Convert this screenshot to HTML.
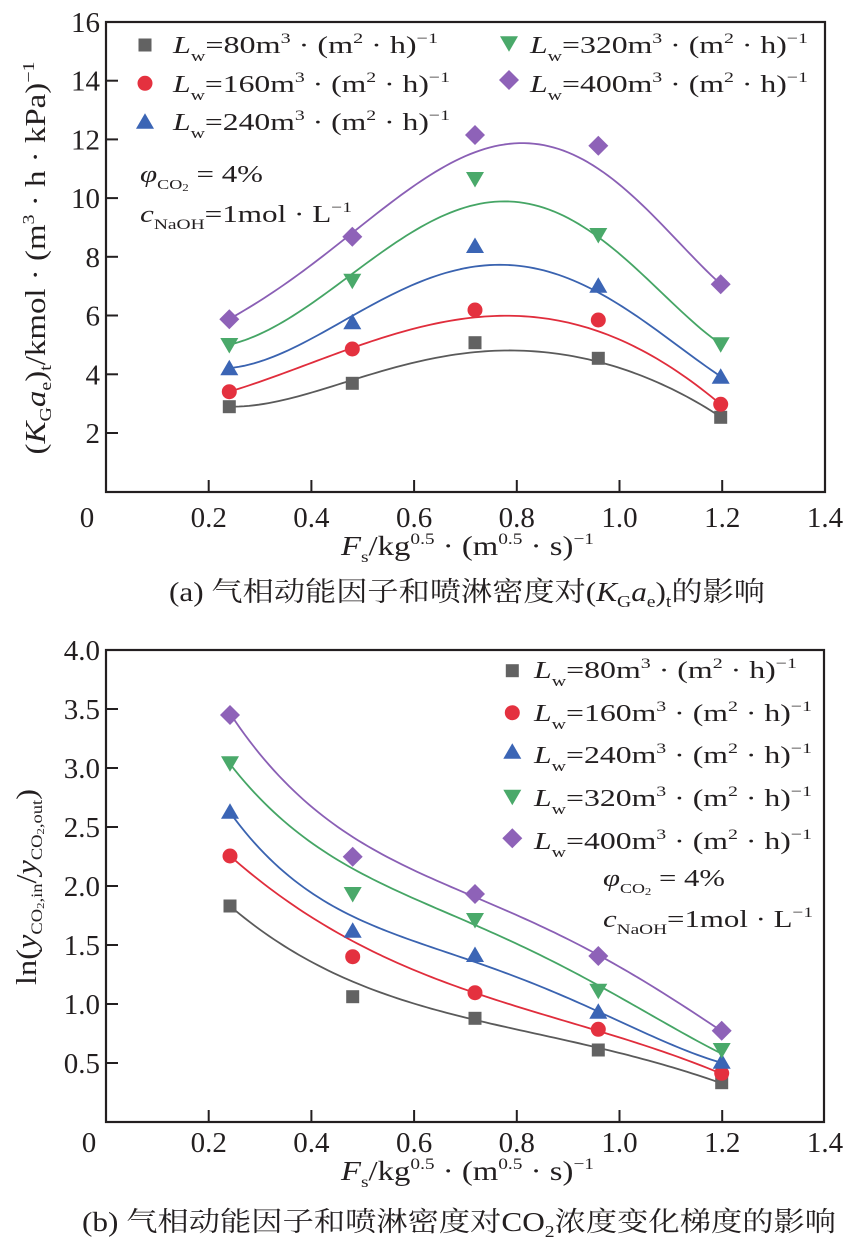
<!DOCTYPE html>
<html><head><meta charset="utf-8"><style>
html,body{margin:0;padding:0;background:#fff;}
svg{display:block;}
text{font-family:"Liberation Serif","Noto Serif CJK SC",serif;fill:#231f20;}
</style></head><body>
<svg width="852" height="1248" viewBox="0 0 852 1248" xmlns="http://www.w3.org/2000/svg">
<defs>
<rect id="sq" x="-6.5" y="-6.5" width="13" height="13" fill="#626262"/>
<circle id="ci" r="7.5" fill="#e4313f"/>
<polygon id="tu" points="0,-8.5 -9,7 9,7" fill="#3b65b5"/>
<polygon id="td" points="-9,-7 9,-7 0,8.5" fill="#4aa96a"/>
<polygon id="di" points="0,-10 10,0 0,10 -10,0" fill="#8e62b8"/>
</defs>

<!-- ============ TOP CHART ============ -->
<g fill="none" stroke-width="1.8" stroke-linejoin="round">
<polyline class="cv" data-deg="5" stroke="#8a5fb5" points="229.3,319.3 266.7,295 300,272 352.3,236.7 400,196.7 433.3,170 466.7,153.3 500,146.7 526.7,144.3 553.3,148.3 580,158.3 606.7,173.3 630,193.3 653.3,216.7 680,243.3 700,263.3 720.7,284.3"/>
<polyline class="cv" data-deg="5" stroke="#45a565" points="229.3,345 290,313 352.3,280.7 400,240 433.3,216.7 466.7,205 500,201.5 530,205 563.3,216.7 598.3,238.3 630,263.3 663.3,293.3 696.7,323.3 720.7,344.3"/>
<polyline class="cv" data-deg="5" stroke="#3a63b0" points="229.3,368.3 290,345.5 352.3,322.3 400,290 433.3,273.3 466.7,266.7 500,265.3 530,268.3 563.3,278.3 598.3,291.7 630,311.7 663.3,335 696.7,358.3 720.7,376.7"/>
<polyline class="cv" data-deg="5" stroke="#e02d3c" points="229.3,391.7 290,370.5 352.3,349 400,331.7 433.3,323.3 466.7,318.3 500,316.7 513.3,316.5 546.7,318.3 580,325 613.3,336.7 646.7,353.3 680,373.3 706.7,393.3 720.7,404.3"/>
<polyline class="cv" data-deg="5" stroke="#5a5a5a" points="229.3,406.7 290,396 352.3,383.3 400,366.7 433.3,356.7 466.7,351.7 500,350.7 513.3,350.3 546.7,352.7 580,358.3 613.3,366.7 646.7,378.3 680,391.7 706.7,406.7 720.7,417.3"/>
</g>
<!-- markers top -->
<use href="#sq" x="229.3" y="406.7"/><use href="#sq" x="352.3" y="383.3"/><use href="#sq" x="475" y="342.7"/><use href="#sq" x="598.3" y="358.3"/><use href="#sq" x="720.7" y="417.3"/>
<use href="#ci" x="229.3" y="391.7"/><use href="#ci" x="352.3" y="349"/><use href="#ci" x="475" y="310"/><use href="#ci" x="598.3" y="320"/><use href="#ci" x="720.7" y="404.3"/>
<use href="#tu" x="229.3" y="368.3"/><use href="#tu" x="352.3" y="322.3"/><use href="#tu" x="475" y="246"/><use href="#tu" x="598.3" y="285.7"/><use href="#tu" x="720.7" y="376.7"/>
<use href="#td" x="229.3" y="345"/><use href="#td" x="352.3" y="280.7"/><use href="#td" x="475" y="179"/><use href="#td" x="598.3" y="235"/><use href="#td" x="720.7" y="344.3"/>
<use href="#di" x="229.3" y="319.3"/><use href="#di" x="352.3" y="236.7"/><use href="#di" x="475" y="135"/><use href="#di" x="598.3" y="145.7"/><use href="#di" x="720.7" y="284.3"/>

<!-- frame & ticks top -->
<rect x="106" y="22" width="719" height="470" fill="none" stroke="#231f20" stroke-width="2.2"/>
<g stroke="#231f20" stroke-width="2">
<line x1="106" y1="433" x2="118" y2="433"/><line x1="106" y1="374.3" x2="118" y2="374.3"/><line x1="106" y1="315.5" x2="118" y2="315.5"/><line x1="106" y1="256.8" x2="118" y2="256.8"/><line x1="106" y1="198.1" x2="118" y2="198.1"/><line x1="106" y1="139.4" x2="118" y2="139.4"/><line x1="106" y1="80.7" x2="118" y2="80.7"/>
<line x1="208.7" y1="492" x2="208.7" y2="480"/><line x1="311.4" y1="492" x2="311.4" y2="480"/><line x1="414.1" y1="492" x2="414.1" y2="480"/><line x1="516.8" y1="492" x2="516.8" y2="480"/><line x1="619.5" y1="492" x2="619.5" y2="480"/><line x1="722.2" y1="492" x2="722.2" y2="480"/>
</g>
<g font-size="29" text-anchor="end">
<text x="100" y="443">2</text><text x="100" y="384.3">4</text><text x="100" y="325.5">6</text><text x="100" y="266.8">8</text><text x="100" y="208.1">10</text><text x="100" y="149.4">12</text><text x="100" y="90.7">14</text><text x="100" y="32">16</text>
</g>
<g font-size="29" text-anchor="middle">
<text x="87" y="527">0</text><text x="208.7" y="527">0.2</text><text x="311.4" y="527">0.4</text><text x="414.1" y="527">0.6</text><text x="516.8" y="527">0.8</text><text x="619.5" y="527">1.0</text><text x="722.2" y="527">1.2</text><text x="825" y="527">1.4</text>
</g>

<!-- legend top -->
<use href="#sq" x="145" y="45"/><use href="#ci" x="145" y="83.3"/><use href="#tu" x="145" y="121.7"/>
<use href="#td" x="509" y="43.3"/><use href="#di" x="509" y="80"/>
<g font-size="24">
<text x="173" y="53" textLength="265" lengthAdjust="spacingAndGlyphs"><tspan font-style="italic">L</tspan><tspan font-size="15" dy="8">w</tspan><tspan dy="-8">=80m</tspan><tspan font-size="15" dy="-10">3</tspan><tspan dy="10"> · (m</tspan><tspan font-size="15" dy="-10">2</tspan><tspan dy="10"> · h)</tspan><tspan font-size="15" dy="-10">−1</tspan></text>
<text x="173" y="92" textLength="277" lengthAdjust="spacingAndGlyphs"><tspan font-style="italic">L</tspan><tspan font-size="15" dy="8">w</tspan><tspan dy="-8">=160m</tspan><tspan font-size="15" dy="-10">3</tspan><tspan dy="10"> · (m</tspan><tspan font-size="15" dy="-10">2</tspan><tspan dy="10"> · h)</tspan><tspan font-size="15" dy="-10">−1</tspan></text>
<text x="173" y="130" textLength="277" lengthAdjust="spacingAndGlyphs"><tspan font-style="italic">L</tspan><tspan font-size="15" dy="8">w</tspan><tspan dy="-8">=240m</tspan><tspan font-size="15" dy="-10">3</tspan><tspan dy="10"> · (m</tspan><tspan font-size="15" dy="-10">2</tspan><tspan dy="10"> · h)</tspan><tspan font-size="15" dy="-10">−1</tspan></text>
<text x="530" y="53" textLength="278" lengthAdjust="spacingAndGlyphs"><tspan font-style="italic">L</tspan><tspan font-size="15" dy="8">w</tspan><tspan dy="-8">=320m</tspan><tspan font-size="15" dy="-10">3</tspan><tspan dy="10"> · (m</tspan><tspan font-size="15" dy="-10">2</tspan><tspan dy="10"> · h)</tspan><tspan font-size="15" dy="-10">−1</tspan></text>
<text x="530" y="92" textLength="278" lengthAdjust="spacingAndGlyphs"><tspan font-style="italic">L</tspan><tspan font-size="15" dy="8">w</tspan><tspan dy="-8">=400m</tspan><tspan font-size="15" dy="-10">3</tspan><tspan dy="10"> · (m</tspan><tspan font-size="15" dy="-10">2</tspan><tspan dy="10"> · h)</tspan><tspan font-size="15" dy="-10">−1</tspan></text>
<text x="140" y="182" textLength="123" lengthAdjust="spacingAndGlyphs"><tspan font-style="italic">φ</tspan><tspan font-size="14" dy="7">CO</tspan><tspan font-size="10" dy="2">2</tspan><tspan dy="-9"> = 4%</tspan></text>
<text x="140" y="222" textLength="212" lengthAdjust="spacingAndGlyphs"><tspan font-style="italic">c</tspan><tspan font-size="15" dy="7">NaOH</tspan><tspan dy="-7">=1mol · L</tspan><tspan font-size="15" dy="-10">−1</tspan></text>
</g>

<!-- axis titles top -->
<text transform="translate(45,258) rotate(-90)" text-anchor="middle" font-size="28" textLength="393" lengthAdjust="spacingAndGlyphs">(<tspan font-style="italic">K</tspan><tspan font-size="17" dy="6">G</tspan><tspan font-style="italic" dy="-6">a</tspan><tspan font-size="17" dy="6">e</tspan><tspan dy="-6">)</tspan><tspan font-size="17" dy="6">t</tspan><tspan dy="-6">/kmol · (m</tspan><tspan font-size="17" dy="-11">3</tspan><tspan dy="11"> · h · kPa)</tspan><tspan font-size="17" dy="-11">−1</tspan></text>
<text x="341" y="555" font-size="27" textLength="253" lengthAdjust="spacingAndGlyphs"><tspan font-style="italic">F</tspan><tspan font-size="16" dy="7">s</tspan><tspan dy="-7">/kg</tspan><tspan font-size="16" dy="-11">0.5</tspan><tspan dy="11"> · (m</tspan><tspan font-size="16" dy="-11">0.5</tspan><tspan dy="11"> · s)</tspan><tspan font-size="16" dy="-11">−1</tspan></text>
<text x="169" y="601" font-size="27" textLength="596" lengthAdjust="spacingAndGlyphs">(a) 气相动能因子和喷淋密度对(<tspan font-style="italic">K</tspan><tspan font-size="17" dy="6">G</tspan><tspan font-style="italic" dy="-6">a</tspan><tspan font-size="17" dy="6">e</tspan><tspan dy="-6">)</tspan><tspan font-size="17" dy="6">t</tspan><tspan dy="-6">的影响</tspan></text>

<!-- ============ BOTTOM CHART ============ -->
<g fill="none" stroke-width="1.8" stroke-linejoin="round">
<polyline class="cv" data-deg="4" stroke="#8a5fb5" points="230,715 266.7,753.3 300,790 333.3,826.7 352.7,841.7 366.7,850 400,866.7 433.3,880 466.7,890 475,894 510,910 543.3,926.7 598.3,956 643.3,983.3 693.3,1013.3 721.7,1030.7"/>
<polyline class="cv" data-deg="4" stroke="#45a565" points="230,765 266.7,800 300,830 333.3,856.7 352.7,871.7 366.7,880 400,895 433.3,908.3 475,922.5 505,934 543.3,956.7 598.3,985 643.3,1013.3 693.3,1040 721.7,1053.3"/>
<polyline class="cv" data-deg="4" stroke="#3a63b0" points="230,813.3 266.7,850 300,883.3 333.3,906.7 352.7,918.3 366.7,925 400,938.3 433.3,948.3 475,960 505,970 543.3,986.7 598.3,1013.3 643.3,1033.3 693.3,1053.3 721.7,1062.7"/>
<polyline class="cv" data-deg="4" stroke="#e02d3c" points="230,856.7 266.7,881.7 300,906.7 333.3,931.7 352.7,943.3 366.7,950 400,965 433.3,978.3 475,992.5 505,1001 543.3,1013.3 598.3,1030 643.3,1046.7 693.3,1065 721.7,1073.3"/>
<polyline class="cv" data-deg="4" stroke="#5a5a5a" points="230,906.7 266.7,930 300,953.3 333.3,975 352.7,983.3 366.7,988.3 400,1000 433.3,1010 475,1018.3 505,1025.5 543.3,1033.3 598.3,1050 643.3,1060 693.3,1073.3 721.7,1083.3"/>
</g>
<use href="#sq" x="230" y="906"/><use href="#sq" x="352.7" y="996.7"/><use href="#sq" x="475" y="1018.3"/><use href="#sq" x="598.3" y="1050"/><use href="#sq" x="721.7" y="1082.7"/>
<use href="#ci" x="230" y="856"/><use href="#ci" x="352.7" y="956.7"/><use href="#ci" x="475" y="992.7"/><use href="#ci" x="598.3" y="1029.3"/><use href="#ci" x="721.7" y="1073.3"/>
<use href="#tu" x="230" y="811.7"/><use href="#tu" x="352.7" y="930.7"/><use href="#tu" x="475" y="955"/><use href="#tu" x="598.3" y="1011.7"/><use href="#tu" x="721.7" y="1061.7"/>
<use href="#td" x="230" y="763.3"/><use href="#td" x="352.7" y="894"/><use href="#td" x="475" y="920"/><use href="#td" x="598.3" y="990.7"/><use href="#td" x="721.7" y="1050"/>
<use href="#di" x="230" y="715"/><use href="#di" x="352.7" y="856.7"/><use href="#di" x="475" y="894"/><use href="#di" x="598.3" y="956"/><use href="#di" x="721.7" y="1030.7"/>

<rect x="106" y="650" width="718" height="472" fill="none" stroke="#231f20" stroke-width="2.2"/>
<g stroke="#231f20" stroke-width="2">
<line x1="106" y1="1063" x2="118" y2="1063"/><line x1="106" y1="1004" x2="118" y2="1004"/><line x1="106" y1="945" x2="118" y2="945"/><line x1="106" y1="886" x2="118" y2="886"/><line x1="106" y1="827" x2="118" y2="827"/><line x1="106" y1="768" x2="118" y2="768"/><line x1="106" y1="709" x2="118" y2="709"/>
<line x1="208.7" y1="1122" x2="208.7" y2="1110"/><line x1="311.4" y1="1122" x2="311.4" y2="1110"/><line x1="414.1" y1="1122" x2="414.1" y2="1110"/><line x1="516.8" y1="1122" x2="516.8" y2="1110"/><line x1="619.5" y1="1122" x2="619.5" y2="1110"/><line x1="722.2" y1="1122" x2="722.2" y2="1110"/>
</g>
<g font-size="29" text-anchor="end">
<text x="100" y="1073">0.5</text><text x="100" y="1014">1.0</text><text x="100" y="955">1.5</text><text x="100" y="896">2.0</text><text x="100" y="837">2.5</text><text x="100" y="778">3.0</text><text x="100" y="719">3.5</text><text x="100" y="660">4.0</text>
</g>
<g font-size="29" text-anchor="middle">
<text x="89" y="1152">0</text><text x="208.7" y="1152">0.2</text><text x="311.4" y="1152">0.4</text><text x="414.1" y="1152">0.6</text><text x="516.8" y="1152">0.8</text><text x="619.5" y="1152">1.0</text><text x="722.2" y="1152">1.2</text><text x="825" y="1152">1.4</text>
</g>

<use href="#sq" x="512.3" y="670.7"/><use href="#ci" x="512.3" y="712.7"/><use href="#tu" x="512.3" y="751.7"/><use href="#td" x="512.3" y="796.7"/><use href="#di" x="512.3" y="838.3"/>
<g font-size="24">
<text x="534" y="678" textLength="263" lengthAdjust="spacingAndGlyphs"><tspan font-style="italic">L</tspan><tspan font-size="15" dy="8">w</tspan><tspan dy="-8">=80m</tspan><tspan font-size="15" dy="-10">3</tspan><tspan dy="10"> · (m</tspan><tspan font-size="15" dy="-10">2</tspan><tspan dy="10"> · h)</tspan><tspan font-size="15" dy="-10">−1</tspan></text>
<text x="534" y="721" textLength="278" lengthAdjust="spacingAndGlyphs"><tspan font-style="italic">L</tspan><tspan font-size="15" dy="8">w</tspan><tspan dy="-8">=160m</tspan><tspan font-size="15" dy="-10">3</tspan><tspan dy="10"> · (m</tspan><tspan font-size="15" dy="-10">2</tspan><tspan dy="10"> · h)</tspan><tspan font-size="15" dy="-10">−1</tspan></text>
<text x="534" y="763" textLength="278" lengthAdjust="spacingAndGlyphs"><tspan font-style="italic">L</tspan><tspan font-size="15" dy="8">w</tspan><tspan dy="-8">=240m</tspan><tspan font-size="15" dy="-10">3</tspan><tspan dy="10"> · (m</tspan><tspan font-size="15" dy="-10">2</tspan><tspan dy="10"> · h)</tspan><tspan font-size="15" dy="-10">−1</tspan></text>
<text x="534" y="806" textLength="278" lengthAdjust="spacingAndGlyphs"><tspan font-style="italic">L</tspan><tspan font-size="15" dy="8">w</tspan><tspan dy="-8">=320m</tspan><tspan font-size="15" dy="-10">3</tspan><tspan dy="10"> · (m</tspan><tspan font-size="15" dy="-10">2</tspan><tspan dy="10"> · h)</tspan><tspan font-size="15" dy="-10">−1</tspan></text>
<text x="534" y="849" textLength="278" lengthAdjust="spacingAndGlyphs"><tspan font-style="italic">L</tspan><tspan font-size="15" dy="8">w</tspan><tspan dy="-8">=400m</tspan><tspan font-size="15" dy="-10">3</tspan><tspan dy="10"> · (m</tspan><tspan font-size="15" dy="-10">2</tspan><tspan dy="10"> · h)</tspan><tspan font-size="15" dy="-10">−1</tspan></text>
<text x="603" y="886" textLength="122" lengthAdjust="spacingAndGlyphs"><tspan font-style="italic">φ</tspan><tspan font-size="14" dy="7">CO</tspan><tspan font-size="10" dy="2">2</tspan><tspan dy="-9"> = 4%</tspan></text>
<text x="603" y="927" textLength="210" lengthAdjust="spacingAndGlyphs"><tspan font-style="italic">c</tspan><tspan font-size="15" dy="7">NaOH</tspan><tspan dy="-7">=1mol · L</tspan><tspan font-size="15" dy="-10">−1</tspan></text>
</g>

<text transform="translate(36,887) rotate(-90)" text-anchor="middle" font-size="28" textLength="196" lengthAdjust="spacingAndGlyphs">ln(<tspan font-style="italic">y</tspan><tspan font-size="16" dy="6">CO</tspan><tspan font-size="11" dy="2">2</tspan><tspan font-size="16" dy="-2">,in</tspan><tspan dy="-6">/</tspan><tspan font-style="italic">y</tspan><tspan font-size="16" dy="6">CO</tspan><tspan font-size="11" dy="2">2</tspan><tspan font-size="16" dy="-2">,out</tspan><tspan dy="-6">)</tspan></text>
<text x="341" y="1180" font-size="27" textLength="253" lengthAdjust="spacingAndGlyphs"><tspan font-style="italic">F</tspan><tspan font-size="16" dy="7">s</tspan><tspan dy="-7">/kg</tspan><tspan font-size="16" dy="-11">0.5</tspan><tspan dy="11"> · (m</tspan><tspan font-size="16" dy="-11">0.5</tspan><tspan dy="11"> · s)</tspan><tspan font-size="16" dy="-11">−1</tspan></text>
<text x="82" y="1231" font-size="27" textLength="754" lengthAdjust="spacingAndGlyphs">(b) 气相动能因子和喷淋密度对CO<tspan font-size="17" dy="6">2</tspan><tspan dy="-6">浓度变化梯度的影响</tspan></text>
</svg>
<script>
(function(){
  function solve(A, b){
    var n = b.length, i, j, k;
    for (i = 0; i < n; i++) {
      var p = i;
      for (k = i+1; k < n; k++) if (Math.abs(A[k][i]) > Math.abs(A[p][i])) p = k;
      var t = A[i]; A[i] = A[p]; A[p] = t; var tb = b[i]; b[i] = b[p]; b[p] = tb;
      for (k = i+1; k < n; k++) {
        var f = A[k][i] / A[i][i];
        for (j = i; j < n; j++) A[k][j] -= f * A[i][j];
        b[k] -= f * b[i];
      }
    }
    var x = new Array(n);
    for (i = n-1; i >= 0; i--) {
      var s = b[i];
      for (j = i+1; j < n; j++) s -= A[i][j] * x[j];
      x[i] = s / A[i][i];
    }
    return x;
  }
  var pls = document.querySelectorAll('polyline.cv');
  for (var k = 0; k < pls.length; k++) {
    var pl = pls[k];
    var DEG = parseInt(pl.getAttribute('data-deg') || '4', 10);
    var pts = pl.getAttribute('points').trim().split(/\s+/).map(function(s){return s.split(',').map(Number);});
    var n = DEG + 1, A = [], b = [], i, j;
    for (i = 0; i < n; i++) { A.push(new Array(n).fill(0)); b.push(0); }
    pts.forEach(function(p, idx){
      var u = (p[0] - 475) / 250;
      var w = (idx === 0 || idx === pts.length - 1) ? 4 : 1;
      var pw = [];
      for (var e = 0; e <= 2*DEG; e++) pw.push(Math.pow(u, e));
      for (var r = 0; r < n; r++) {
        for (var c = 0; c < n; c++) A[r][c] += w * pw[r+c];
        b[r] += w * pw[r] * p[1];
      }
    });
    var co = solve(A, b);
    var x0 = pts[0][0], x1 = pts[pts.length-1][0], out = [];
    for (i = 0; i <= 100; i++) {
      var x = x0 + (x1 - x0) * i / 100, u = (x - 475) / 250, y = 0;
      for (j = n - 1; j >= 0; j--) y = y * u + co[j];
      out.push(x.toFixed(2) + ',' + y.toFixed(2));
    }
    pl.setAttribute('points', out.join(' '));
  }
})();
</script>
</body></html>
